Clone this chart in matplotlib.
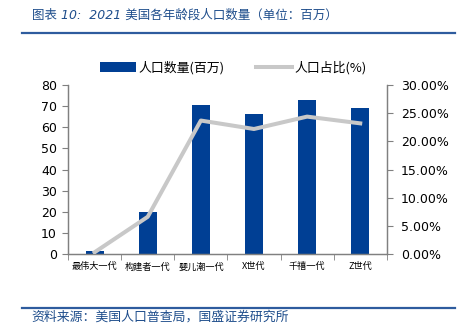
import numpy as np
import matplotlib
matplotlib.use("Agg")
import matplotlib.pyplot as plt
from matplotlib.ticker import FuncFormatter
from matplotlib.patches import Patch
from matplotlib.lines import Line2D

plt.rcParams['font.family'] = ['DejaVu Sans', 'Noto Sans CJK SC']

categories = ["最伟大一代", "构建者一代", "婴儿潮一代", "X世代", "千禧一代", "Z世代"]
population = [1.4, 19.7, 70.8, 66.3, 72.8, 69.2]      # 人口数量(百万)
share_pct = [0.3, 6.6, 23.7, 22.2, 24.4, 23.2]        # 人口占比(%)

title = "图表 10:  2021 美国各年龄段人口数量（单位：百万）"
source = "资料来源：美国人口普查局，国盛证券研究所"

bar_color = "#003F94"
line_color = "#C8C8C8"
spine_color = "#808080"
text_blue = "#1F4E8C"

fig = plt.figure(figsize=(4.66, 3.26), dpi=100)
ax = fig.add_axes([0.146, 0.221, 0.684, 0.518])
ax2 = ax.twinx()

x = np.arange(len(categories))
ax.bar(x, population, width=0.34, color=bar_color, zorder=2)
ax2.plot(x, share_pct, color=line_color, lw=2.9, zorder=3)

ax.set_xlim(-0.5, len(categories) - 0.5)
ax.set_ylim(0, 80)
ax.set_yticks(range(0, 81, 10))
ax2.set_ylim(0, 30)
ax2.set_yticks(range(0, 31, 5))
ax2.yaxis.set_major_formatter(FuncFormatter(lambda v, p: f"{v:.2f}%"))

ax.set_xticks(x)
ax.set_xticklabels(categories, family=['Noto Sans CJK SC', 'DejaVu Sans'], fontsize=6.6)
ax.set_xticks(np.arange(-0.5, len(categories)), minor=True)
ax.tick_params(axis='x', which='major', length=0, pad=6)
ax.tick_params(axis='x', which='minor', length=4, color=spine_color, direction='out')
ax.tick_params(axis='y', length=4, color=spine_color, labelsize=9, pad=4)
ax2.tick_params(axis='y', length=4, color=spine_color, labelsize=9, pad=6)

for a in (ax, ax2):
    a.spines['top'].set_visible(False)
    for s in ('left', 'right', 'bottom'):
        a.spines[s].set_color(spine_color)
        a.spines[s].set_linewidth(0.9)

handles = [Patch(facecolor=bar_color, edgecolor='none'),
           Line2D([0], [0], color=line_color, lw=2.9)]
fig.legend(handles, ["人口数量(百万)", "人口占比(%)"], loc='center',
           bbox_to_anchor=(0.501, 0.791), ncol=2, frameon=False,
           prop={'family': ['Noto Sans CJK SC', 'DejaVu Sans'], 'size': 9.3},
           handlelength=2.8, handleheight=0.8, handletextpad=0.2, columnspacing=2.4)

fig.text(0.068, 0.952, title, color=text_blue, fontsize=9.0, style='italic',
         family=['DejaVu Sans', 'Noto Sans CJK SC'], va='center')
fig.add_artist(Line2D([0.047, 0.977], [0.900, 0.900], color="#2E5C9E", lw=1.6))
fig.add_artist(Line2D([0.047, 0.977], [0.055, 0.055], color="#2E5C9E", lw=1.6))
fig.text(0.068, 0.027, source, color=text_blue, fontsize=9.3, style='italic',
         family=['Noto Sans CJK SC', 'DejaVu Sans'], va='center')

fig.savefig("out.png", dpi=100)
